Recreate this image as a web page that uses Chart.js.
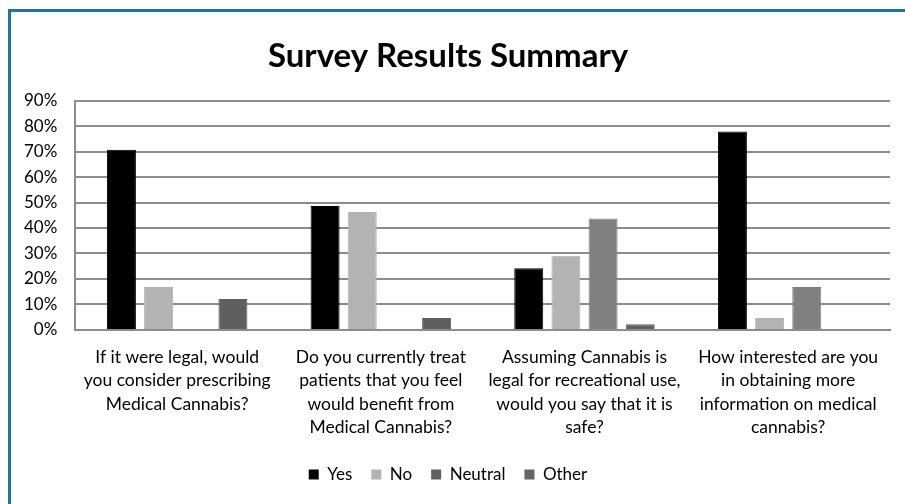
<!DOCTYPE html>
<html>
<head>
<meta charset="utf-8">
<script src="https://cdn.jsdelivr.net/npm/chart.js@4/dist/chart.umd.min.js"></script>
<style>
    html, body { margin: 0; padding: 0; background: #fff; }
    #wrap { position: absolute; left: 0; top: 0; width: 905px; height: 504px; }
    #frame {
        position: absolute; left: 8px; top: 9px; right: 0; bottom: 0;
        border-left: 3px solid #1a76a6; border-top: 3px solid #1a76a6;
        pointer-events: none;
    }
</style>
</head>
<body>
<div id="wrap">
    <canvas id="surveyChart"></canvas>
    <div id="frame"></div>
</div>
<script>
const categorias = [
    ["If it were legal, would", "you consider prescribing", "Medical Cannabis?"],
    ["Do you currently treat", "patients that you feel", "would benefit from", "Medical Cannabis?"],
    ["Assuming Cannabis is", "legal for recreational use,", "would you say that it is", "safe?"],
    ["How interested are you", "in obtaining more", "information on medical", "cannabis?"]
];
const yes = [70.7, 48.6, 24.2, 77.9];
const no = [16.8, 46.3, 29.1, 4.7];
const neutral = [0, 0, 43.7, 16.8];
const other = [12.1, 4.7, 2.2, 0];
const yTicks = [0, 10, 20, 30, 40, 50, 60, 70, 80, 90];

const fonte = "Lato, 'Liberation Sans', sans-serif";
// legend swatches in the original don't quite follow the bar colours
const corLegenda = ["#000000", "#b3b3b3", "#5f5f5f", "#646464"];

function serie(label, data, cor) {
    return {
        label: label,
        data: data,
        backgroundColor: cor,
        borderColor: cor,
        borderWidth: 1
    };
}

document.addEventListener("DOMContentLoaded", function () {
    const ctx = document.getElementById("surveyChart").getContext("2d");
    window.surveyChart = new Chart(ctx, {
        type: "bar",
        data: {
            labels: categorias,
            datasets: [
                serie("Yes", yes, "#000000"),
                serie("No", no, "#b3b3b3"),
                serie("Neutral", neutral, "#808080"),
                serie("Other", other, "#5f5f5f")
            ]
        },
        options: {
            responsive: true,
            maintainAspectRatio: false,
            animation: false,
            datasets: {
                bar: { categoryPercentage: 0.73, barPercentage: 0.78 }
            },
            layout: { padding: { top: 37, left: 6, right: 15, bottom: 11 } },
            plugins: {
                title: {
                    display: true,
                    text: "Survey Results Summary",
                    color: "#000",
                    font: { family: fonte, size: 33, weight: "bold" },
                    padding: { top: 0, bottom: 24 }
                },
                legend: {
                    position: "bottom",
                    labels: {
                        color: "#000",
                        font: { family: fonte, size: 17 },
                        boxWidth: 10,
                        boxHeight: 10,
                        padding: 19,
                        generateLabels: function (chart) {
                            const itens = Chart.defaults.plugins.legend.labels.generateLabels(chart);
                            itens.forEach((it, i) => {
                                it.fillStyle = corLegenda[i];
                                it.strokeStyle = corLegenda[i];
                                it.lineWidth = 0;
                            });
                            return itens;
                        }
                    }
                },
                tooltip: { enabled: false }
            },
            scales: {
                x: {
                    grid: { display: false },
                    border: { display: true, color: "#8c8c8c", width: 2 },
                    ticks: {
                        color: "#000",
                        font: { family: fonte, size: 17.5, lineHeight: 1.33 },
                        maxRotation: 0,
                        autoSkip: false,
                        padding: 8
                    }
                },
                y: {
                    min: 0,
                    max: 90,
                    afterBuildTicks: function (axis) {
                        axis.ticks = yTicks.map(v => ({ value: v }));
                    },
                    grid: { color: "#8c8c8c", lineWidth: 2, drawTicks: false },
                    border: { display: true, color: "#8c8c8c", width: 2 },
                    ticks: {
                        color: "#000",
                        font: { family: fonte, size: 17 },
                        padding: 18,
                        callback: v => v + "%"
                    }
                }
            }
        }
    });
});
</script>
</body>
</html>
